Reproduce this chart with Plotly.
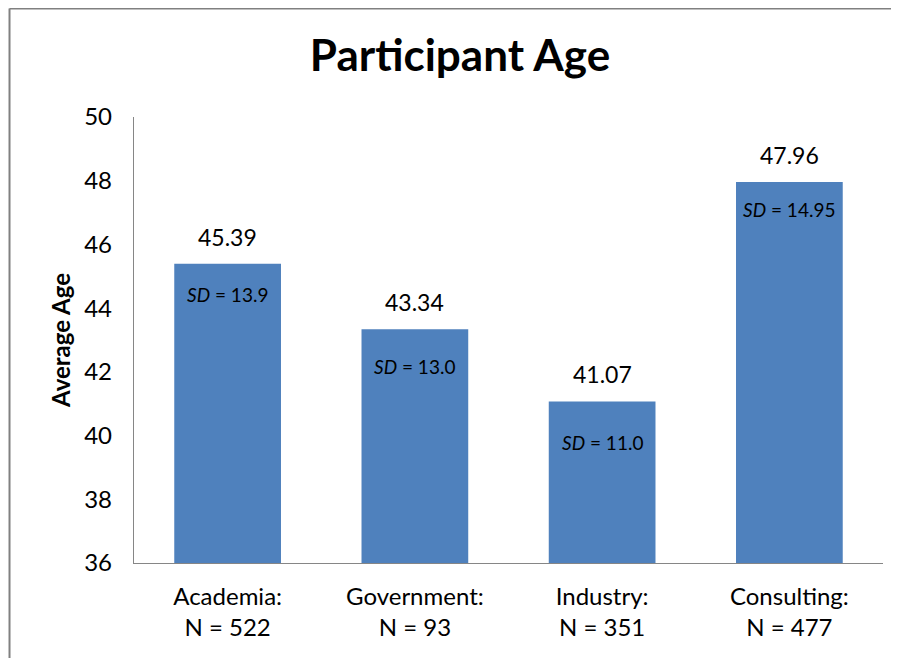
import plotly.graph_objects as go

categories = ["Academia:<br>N = 522", "Government:<br>N = 93", "Industry:<br>N = 351", "Consulting:<br>N = 477"]
mean_age = [45.39, 43.34, 41.07, 47.96]
value_labels = ["45.39", "43.34", "41.07", "47.96"]
sd_labels = ["<i>SD</i> = 13.9", "<i>SD</i> = 13.0", "<i>SD</i> = 11.0", "<i>SD</i> = 14.95"]
y_ticks = [36, 38, 40, 42, 44, 46, 48, 50]

# label placement (pixels below the bar top, to the label centre)
sd_offsets = [31, 37, 41, 28]

FONT = "Lato"
BAR = "#4F81BD"
AXIS = "#868686"
BORDER = "#808080"

W, H = 891, 650

fig = go.Figure(go.Bar(x=categories, y=mean_age, marker=dict(color=BAR, line=dict(width=0)),
                       hoverinfo="skip"))

ann = []
for c, v, vl, sl, off in zip(categories, mean_age, value_labels, sd_labels, sd_offsets):
    ann.append(dict(x=c, y=v, text=vl, showarrow=False, yanchor="middle", yshift=27,
                    font=dict(family=FONT, size=23, color="black")))
    ann.append(dict(x=c, y=v, text=sl, showarrow=False, yanchor="middle", yshift=-off,
                    font=dict(family=FONT, size=19, color="black")))

# plot area in figure px: x 126..875, y 109..555
fig.update_layout(
    width=W, height=H,
    margin=dict(l=126, r=16, t=109, b=95),
    paper_bgcolor="white", plot_bgcolor="white",
    bargap=0.43,
    showlegend=False,
    title=dict(text="<b>Participant Age</b>", x=452 / W, xref="container", y=1 - 48 / H,
               yref="container", xanchor="center", yanchor="middle",
               font=dict(family=FONT, size=44, color="black")),
    annotations=ann,
    shapes=[
        dict(type="line", xref="paper", yref="paper", x0=-0.1662, x1=-0.1662, y0=-0.4, y1=1.2433,
             line=dict(color=BORDER, width=2), layer="below"),
        dict(type="line", xref="paper", yref="paper", x0=-0.1662, x1=1.3, y0=1.2433, y1=1.2433,
             line=dict(color=BORDER, width=2), layer="below"),
    ],
)
fig.update_xaxes(showline=True, linecolor=AXIS, linewidth=1.3, ticks="", showgrid=False,
                 tickfont=dict(family=FONT, size=24, color="black"), ticklabelstandoff=12)
fig.update_yaxes(range=[36, 50], tickvals=y_ticks, showline=True, linecolor=AXIS, linewidth=1.3,
                 showgrid=False, zeroline=False, ticks="",
                 tickfont=dict(family=FONT, size=24, color="black"), ticklabelstandoff=16,
                 title=dict(text="<b>Average Age</b>", standoff=6,
                            font=dict(family=FONT, size=24, color="black")))

fig.write_html("out.html")
